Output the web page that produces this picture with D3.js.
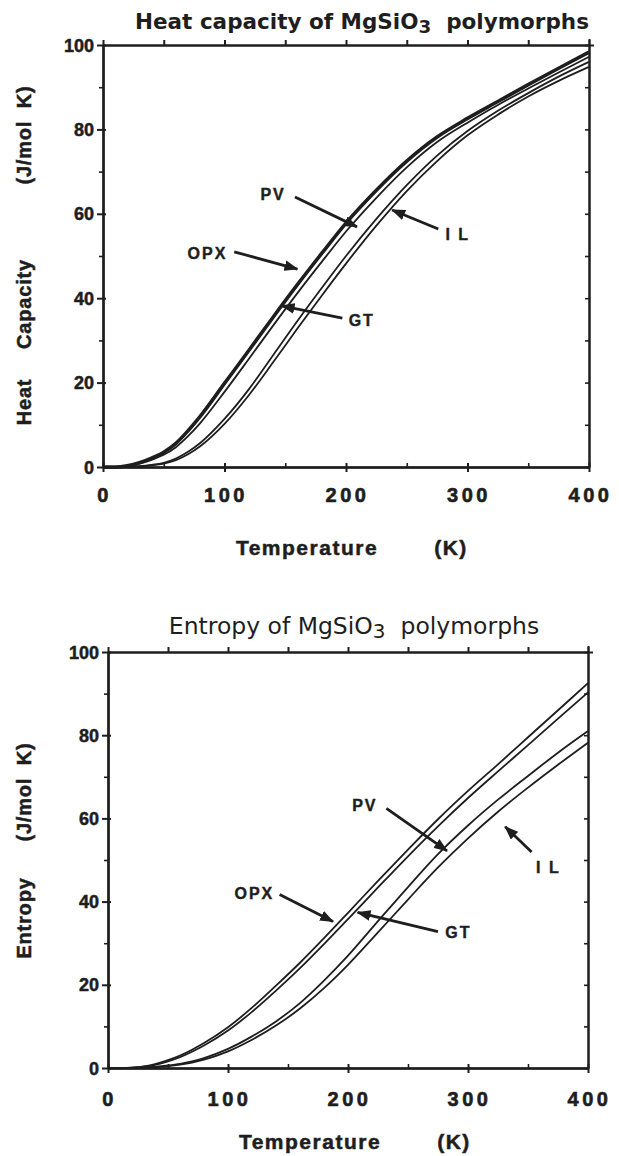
<!DOCTYPE html>
<html><head><meta charset="utf-8">
<script src="https://cdn.jsdelivr.net/npm/d3@7"></script>
<style>body{margin:0;background:#fff}</style>
</head><body>
<svg id="c" width="619" height="1156" xmlns="http://www.w3.org/2000/svg"></svg>
<script>
// ---- data ----
const temps = [0,10,20,30,40,50,60,70,80,100,120,140,160,180,200,225,250,275,300,325,350,375,400];
// heat capacity, J/mol K
const cpOPX = [0,0,0.3,1.0,2.1,3.5,5.6,8.6,12.0,19.8,27.6,35.5,43.2,50.6,57.8,65.6,72.5,78.2,82.6,86.6,90.6,94.5,98.3];
const cpGT  = [0,0,0.2,0.8,1.7,2.9,4.7,7.3,10.4,17.8,25.6,33.5,41.2,48.6,55.8,63.8,71.0,77.0,81.6,85.8,89.7,93.5,97.2];
const cpPV  = [0,0,0.05,0.2,0.5,1.0,2.0,3.6,5.7,11.4,18.4,26.5,34.6,42.4,50.0,58.8,66.8,73.8,79.6,84.4,88.6,92.5,96.0];
const cpIL  = [0,0,0.03,0.15,0.4,0.8,1.6,3.0,4.9,10.2,17.0,24.8,32.8,40.6,48.2,57.2,65.4,72.5,78.6,83.5,87.8,91.5,94.8];
// entropy, J/mol K
const sOPX = [0,0,0.1,0.4,1.0,1.9,3.0,4.4,6.0,9.8,14.5,19.8,25.3,31.2,37.3,45.0,52.5,59.8,66.6,73.0,79.5,86.0,92.5];
const sGT  = [0,0,0.1,0.3,0.8,1.6,2.6,3.9,5.4,9.0,13.5,18.6,24.0,29.8,35.8,43.4,50.9,58.1,64.9,71.3,77.6,84.0,90.3];
const sPV  = [0,0,0,0.1,0.3,0.6,1.0,1.6,2.4,4.6,7.6,11.2,15.6,21.0,27.0,35.3,43.5,51.4,58.3,64.5,70.2,75.8,81.0];
const sIL  = [0,0,0,0.05,0.2,0.45,0.8,1.3,2.0,4.0,6.8,10.2,14.3,19.2,24.8,32.6,40.5,48.2,55.2,61.6,67.4,72.9,78.2];
const seriesNames = ["OPX","GT","PV","IL"];
const xMajor = [0,100,200,300,400];
const xMinor = [50,150,250,350];
const yMajor = [0,20,40,60,80,100];
const yMinor = [10,30,50,70,90];
const topTitle = ["Heat capacity of MgSiO", "3", "  polymorphs"];
const botTitle = ["Entropy of MgSiO", "3", "  polymorphs"];
const xTitleParts = ["Temperature", "(K)"];
const yTitleTopParts = ["Heat", "Capacity", "(J/mol  K)"];
const yTitleBotParts = ["Entropy", "(J/mol  K)"];
const labelsTop = ["PV","I L","OPX","GT"];
const labelsBot = ["PV","I L","OPX","GT"];

// ---- drawing ----
const svg = d3.select("#c");
const ink = "#1e1e1e";
svg.append("rect").attr("width",619).attr("height",1156).attr("fill","#fff");
const defs = svg.append("defs");
defs.append("marker").attr("id","ah").attr("viewBox","0 0 13 10").attr("refX",12).attr("refY",5)
  .attr("markerWidth",14).attr("markerHeight",11).attr("markerUnits","userSpaceOnUse").attr("orient","auto")
  .append("path").attr("d","M0,0 L13,5 L0,10 Z").attr("fill",ink);

const lf = "Liberation Sans";
function panel(cfg){
  const g = svg.append("g");
  const x = d3.scaleLinear().domain([0,400]).range([cfg.x0,cfg.x1]);
  const y = d3.scaleLinear().domain([0,100]).range([cfg.y0,cfg.y1]);
  // title
  const tt = g.append("text").attr("x",cfg.titleX).attr("y",cfg.titleY).attr("text-anchor","middle")
    .attr("font-family","DejaVu Sans").attr("font-size",cfg.titleSize).attr("font-weight",cfg.titleWeight)
    .attr("fill",ink).style("white-space","pre");
  tt.append("tspan").text(cfg.title[0]);
  tt.append("tspan").attr("dy",4).attr("font-size",cfg.titleSize*0.85).text(cfg.title[1]);
  tt.append("tspan").attr("dy",-4).text(cfg.title[2]);

  // curves
  const line = d3.line().x((d,i)=>x(temps[i])).y(d=>y(d)).curve(d3.curveMonotoneX);
  cfg.series.forEach((s,i)=>{
    g.append("path").attr("d",line(s)).attr("fill","none").attr("stroke",ink)
      .attr("stroke-width",cfg.widths[i]).attr("stroke-linejoin","round");
  });

  // frame + ticks
  const mk = (axis, tr, maj) => {
    const a = g.append("g").attr("transform",tr).call(axis);
    a.select(".domain").attr("stroke",ink).attr("stroke-width",2);
    a.selectAll(".tick line").attr("stroke",ink).attr("stroke-width",maj?2:1.6);
    return a;
  };
  mk(d3.axisBottom(x).tickValues(xMajor).tickSize(5).tickSizeOuter(0).tickFormat(""),`translate(0,${cfg.y0})`,true);
  mk(d3.axisBottom(x).tickValues(xMajor).tickSize(-4).tickSizeOuter(0).tickFormat(""),`translate(0,${cfg.y0})`,true);
  mk(d3.axisBottom(x).tickValues(xMinor).tickSize(-4).tickSizeOuter(0).tickFormat(""),`translate(0,${cfg.y0})`,false);
  mk(d3.axisTop(x).tickValues(xMajor.concat(xMinor)).tickSize(5).tickSizeOuter(0).tickFormat(""),`translate(0,${cfg.y1})`,true);
  mk(d3.axisLeft(y).tickValues(yMajor).tickSize(6).tickSizeOuter(0).tickFormat(""),`translate(${cfg.x0},0)`,true);
  mk(d3.axisLeft(y).tickValues(yMinor).tickSize(4).tickSizeOuter(0).tickFormat(""),`translate(${cfg.x0},0)`,false);
  mk(d3.axisLeft(y).tickValues(yMajor).tickSize(-3).tickSizeOuter(0).tickFormat(""),`translate(${cfg.x0},0)`,true);
  mk(d3.axisRight(y).tickValues(yMajor.concat(yMinor)).tickSize(-4).tickSizeOuter(0).tickFormat(""),`translate(${cfg.x1},0)`,false);
  mk(d3.axisRight(y).tickValues([100]).tickSize(5).tickSizeOuter(0).tickFormat(""),`translate(${cfg.x1},0)`,true);
  mk(d3.axisTop(x).tickValues([400]).tickSize(6).tickSizeOuter(0).tickFormat(""),`translate(0,${cfg.y1})`,true);

  // tick labels
  g.selectAll(".xl").data(xMajor).join("text").attr("class","xl")
    .attr("x",d=>x(d)+1.5).attr("y",cfg.y0+cfg.xLabOff).attr("text-anchor","middle")
    .attr("font-family",lf).attr("font-weight","bold").attr("font-size",20)
    .attr("stroke",ink).attr("stroke-width",0.6)
    .style("letter-spacing","3.5px").attr("fill",ink).text(d=>d);
  g.selectAll(".yl").data(yMajor).join("text").attr("class","yl")
    .attr("x",cfg.x0-9).attr("y",d=>y(d)+6.5).attr("text-anchor","end")
    .attr("font-family",lf).attr("font-weight","bold").attr("font-size",18)
    .attr("stroke",ink).attr("stroke-width",0.5)
    .attr("fill",ink).text(d=>d);
  // axis titles
  xTitleParts.forEach((t,i)=>{
    g.append("text").attr("x",cfg.xTitleXs[i]).attr("y",cfg.y0+cfg.xTitleOff).attr("text-anchor","middle")
      .attr("font-family",lf).attr("font-weight","bold").attr("font-size",21).attr("fill",ink)
      .attr("stroke",ink).attr("stroke-width",0.5)
      .style("letter-spacing","1.5px").text(t);
  });
  cfg.yTitleParts.forEach((t,i)=>{
    g.append("text").attr("transform",`translate(${cfg.yTitleX},${cfg.yTitleYs[i]}) rotate(-90)`).attr("text-anchor","middle")
      .attr("font-family",lf).attr("font-weight","bold").attr("font-size",20).attr("fill",ink)
      .attr("stroke",ink).attr("stroke-width",0.5)
      .style("white-space","pre").style("letter-spacing","0.8px").text(t);
  });

  // annotations
  cfg.notes.forEach((n,i)=>{
    g.append("text").attr("x",x(n.lx)).attr("y",y(n.ly)+5.5).attr("text-anchor","middle")
      .attr("font-family",lf).attr("font-weight","bold").attr("font-size",16).attr("fill",ink)
      .attr("stroke",ink).attr("stroke-width",0.4)
      .style("letter-spacing","2px").style("white-space","pre").text(cfg.labels[i]);
    g.append("line").attr("x1",x(n.ax1)).attr("y1",y(n.ay1)).attr("x2",x(n.ax2)).attr("y2",y(n.ay2))
      .attr("stroke",ink).attr("stroke-width",2.8).attr("marker-end","url(#ah)");
  });
}

panel({
  x0:103, x1:589, y0:467, y1:45,
  title: topTitle, titleX:362, titleY:29, titleSize:21.5, titleWeight:"bold",
  series:[cpOPX,cpGT,cpPV,cpIL], widths:[3.6,1.8,1.8,1.8],
  xLabOff:35, xTitleXs:[307,451], xTitleOff:88,
  yTitleParts: yTitleTopParts, yTitleX:31, yTitleYs:[402,304,135],
  labels: labelsTop,
  notes:[
    {lx:140, ly:64.5, ax1:158, ay1:64, ax2:209, ay2:56.9},
    {lx:292, ly:55.2, ax1:276, ay1:56.4, ax2:238, ay2:60.9},
    {lx:86,  ly:50.7, ax1:108, ay1:51, ax2:160, ay2:46.9},
    {lx:213, ly:34.8, ax1:197, ay1:35.3, ax2:147, ay2:38.2}
  ]
});
panel({
  x0:108, x1:588, y0:1068, y1:652,
  title: botTitle, titleX:354, titleY:634, titleSize:23.5, titleWeight:"normal",
  series:[sOPX,sGT,sPV,sIL], widths:[1.8,1.8,1.8,1.8],
  xLabOff:38, xTitleXs:[310,454], xTitleOff:81,
  yTitleParts: yTitleBotParts, yTitleX:31, yTitleYs:[918,792],
  labels: labelsBot,
  notes:[
    {lx:214, ly:63.1, ax1:232, ay1:62.4, ax2:282.5, ay2:52.2},
    {lx:367, ly:48.3, ax1:353, ay1:51.9, ax2:331, ay2:58},
    {lx:122, ly:42,   ax1:143, ay1:41.7, ax2:187.5, ay2:35.2},
    {lx:292, ly:32.5, ax1:275, ay1:32.8, ax2:208, ay2:37.4}
  ]
});
</script>
</body></html>
